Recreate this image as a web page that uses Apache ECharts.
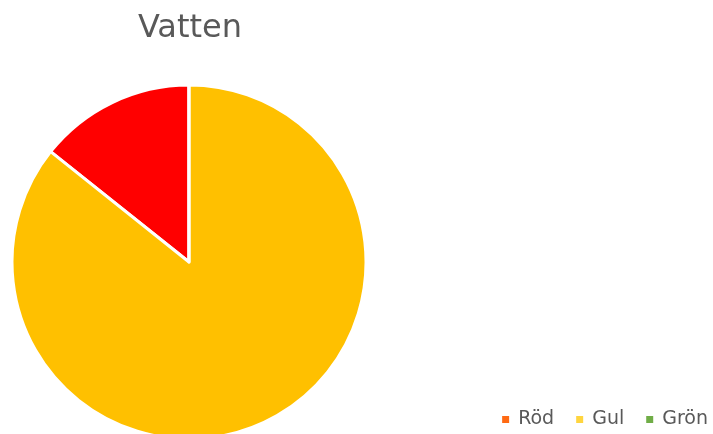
<!DOCTYPE html>
<html>
<head>
<meta charset="utf-8">
<script src="https://cdn.jsdelivr.net/npm/echarts@6/dist/echarts.min.js"></script>
<style>
  html, body { margin: 0; padding: 0; background: #fff; }
  #main { width: 713px; height: 434px; }
</style>
</head>
<body>
<div id="main"></div>
<script>
var categories = ['Röd', 'Gul', 'Grön'];
var values = [1, 6, 0];
var sliceColors = ['#FF0000', '#FFC000', '#70AD47'];
var legendColors = ['#FF6A13', '#FFD53F', '#70AD47'];

var myChart = echarts.init(document.getElementById('main'));

var pieData = [];
var legendData = [];
for (var i = 0; i < categories.length; i++) {
    pieData.push({ name: categories[i], value: values[i], itemStyle: { color: sliceColors[i] } });
    legendData.push({ name: categories[i], itemStyle: { color: legendColors[i] } });
}

var option = {
    animation: false,
    title: {
        text: 'Vatten',
        left: 185,
        top: 8,
        textAlign: 'center',
        textStyle: { fontFamily: 'DejaVu Sans', fontSize: 32, fontWeight: 'normal', color: '#595959' }
    },
    legend: {
        data: legendData,
        right: 0,
        bottom: 0,
        icon: 'rect',
        itemWidth: 9,
        itemHeight: 9,
        itemGap: 20,
        textStyle: { fontFamily: 'DejaVu Sans', fontSize: 19, color: '#595959', padding: [0, 0, 0, 3] }
    },
    series: [
        {
            type: 'pie',
            center: [189, 262],
            radius: 177,
            startAngle: 90,
            clockwise: false,
            label: { show: false },
            labelLine: { show: false },
            itemStyle: { borderColor: '#fff', borderWidth: 3 },
            data: pieData
        }
    ]
};

myChart.setOption(option);
</script>
</body>
</html>
